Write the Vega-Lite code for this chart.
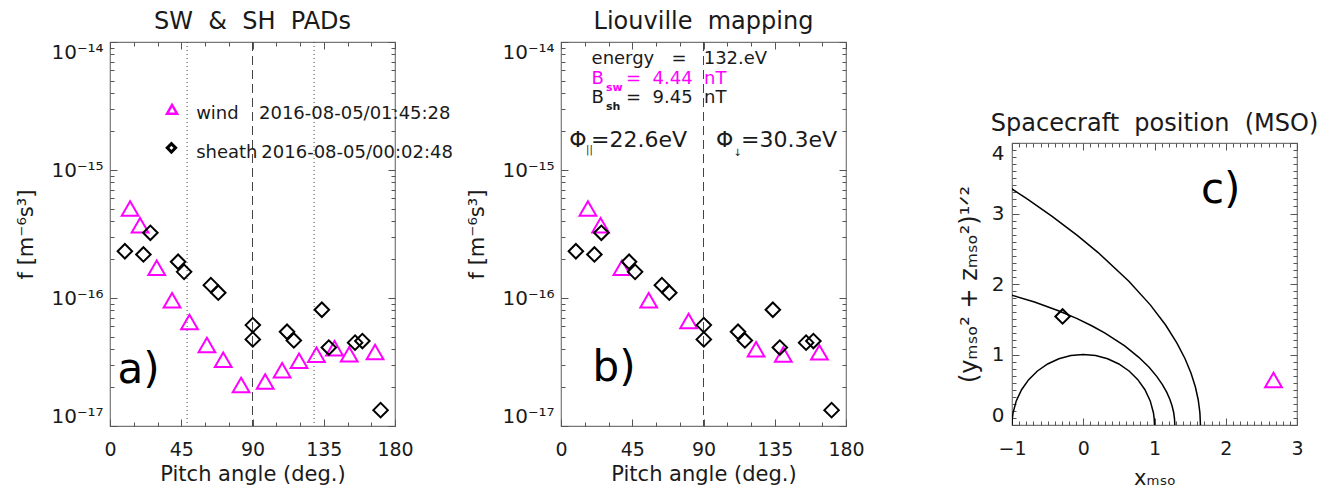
{
  "$schema": "https://vega.github.io/schema/vega-lite/v6.json",
  "background": "white",
  "padding": {"left": 15, "top": 9, "right": 5, "bottom": 5},
  "config": {
    "font": "DejaVu Sans",
    "view": {"stroke": "#777777", "strokeWidth": 1.2},
    "axis": {"domain": false, "grid": false, "tickColor": "#555555", "tickWidth": 1, "labelFont": "DejaVu Sans", "labelFontSize": 20, "labelColor": "#1a1a1a", "titleFont": "DejaVu Sans", "titleFontSize": 21, "titleFontWeight": "normal", "titleColor": "#1a1a1a", "labelOverlap": false},
    "axisX": {"labelFontSize": 19},
    "title": {"font": "DejaVu Sans", "fontSize": 24, "fontWeight": "normal", "color": "#1a1a1a", "offset": 0, "frame": "group", "anchor": "middle"}
  },
  "datasets": {
    "wind": [
      {"a": 12.7, "f": 5.0e-16}, {"a": 19.0, "f": 3.7e-16}, {"a": 29.5, "f": 1.72e-16}, {"a": 39.2, "f": 9.6e-17},
      {"a": 50.2, "f": 6.5e-17}, {"a": 61.2, "f": 4.29e-17}, {"a": 71.5, "f": 3.3e-17}, {"a": 82.8, "f": 2.09e-17},
      {"a": 98.0, "f": 2.23e-17}, {"a": 108.7, "f": 2.73e-17}, {"a": 119.4, "f": 3.24e-17}, {"a": 130.4, "f": 3.6e-17},
      {"a": 141.8, "f": 4.05e-17}, {"a": 151.1, "f": 3.63e-17}, {"a": 167.4, "f": 3.78e-17}
    ],
    "sheath": [
      {"a": 9.4, "f": 2.32e-16}, {"a": 21.1, "f": 2.19e-16}, {"a": 25.5, "f": 3.23e-16}, {"a": 43.0, "f": 1.92e-16},
      {"a": 46.8, "f": 1.6e-16}, {"a": 63.7, "f": 1.26e-16}, {"a": 68.4, "f": 1.1e-16}, {"a": 90.2, "f": 6.14e-17},
      {"a": 90.2, "f": 4.75e-17}, {"a": 111.8, "f": 5.45e-17}, {"a": 116.1, "f": 4.66e-17}, {"a": 133.8, "f": 8.09e-17},
      {"a": 138.2, "f": 4.1e-17}, {"a": 154.8, "f": 4.48e-17}, {"a": 159.4, "f": 4.61e-17}, {"a": 170.9, "f": 1.33e-17}
    ],
    "mapped": [
      {"a": 17.0, "f": 5.0e-16}, {"a": 25.0, "f": 3.7e-16}, {"a": 38.5, "f": 1.72e-16}, {"a": 55.4, "f": 9.6e-17},
      {"a": 80.6, "f": 6.6e-17}, {"a": 123.2, "f": 3.97e-17}, {"a": 140.4, "f": 3.62e-17}, {"a": 163.2, "f": 3.76e-17}
    ],
    "curves": [
      {"s": "mars", "o": 0, "x": -1, "y": 0}, {"s": "mars", "o": 1, "x": -0.996, "y": 0.087}, {"s": "mars", "o": 2, "x": -0.985, "y": 0.174},
      {"s": "mars", "o": 3, "x": -0.94, "y": 0.342}, {"s": "mars", "o": 4, "x": -0.866, "y": 0.5}, {"s": "mars", "o": 5, "x": -0.766, "y": 0.643},
      {"s": "mars", "o": 6, "x": -0.643, "y": 0.766}, {"s": "mars", "o": 7, "x": -0.5, "y": 0.866}, {"s": "mars", "o": 8, "x": -0.342, "y": 0.94},
      {"s": "mars", "o": 9, "x": -0.174, "y": 0.985}, {"s": "mars", "o": 10, "x": 0, "y": 1}, {"s": "mars", "o": 11, "x": 0.174, "y": 0.985},
      {"s": "mars", "o": 12, "x": 0.342, "y": 0.94}, {"s": "mars", "o": 13, "x": 0.5, "y": 0.866}, {"s": "mars", "o": 14, "x": 0.643, "y": 0.766},
      {"s": "mars", "o": 15, "x": 0.766, "y": 0.643}, {"s": "mars", "o": 16, "x": 0.866, "y": 0.5}, {"s": "mars", "o": 17, "x": 0.94, "y": 0.342},
      {"s": "mars", "o": 18, "x": 0.985, "y": 0.174}, {"s": "mars", "o": 19, "x": 0.996, "y": 0.087}, {"s": "mars", "o": 20, "x": 1, "y": 0},
      {"s": "mpb", "o": 0, "x": 1.285, "y": 0}, {"s": "mpb", "o": 1, "x": 1.281, "y": 0.088}, {"s": "mpb", "o": 2, "x": 1.269, "y": 0.178},
      {"s": "mpb", "o": 3, "x": 1.247, "y": 0.27}, {"s": "mpb", "o": 4, "x": 1.215, "y": 0.365}, {"s": "mpb", "o": 5, "x": 1.171, "y": 0.466},
      {"s": "mpb", "o": 6, "x": 1.111, "y": 0.573}, {"s": "mpb", "o": 7, "x": 1.031, "y": 0.69}, {"s": "mpb", "o": 8, "x": 0.924, "y": 0.818},
      {"s": "mpb", "o": 9, "x": 0.78, "y": 0.96}, {"s": "mpb", "o": 10, "x": 0.582, "y": 1.121}, {"s": "mpb", "o": 11, "x": 0.306, "y": 1.303},
      {"s": "mpb", "o": 12, "x": 0.125, "y": 1.404}, {"s": "mpb", "o": 13, "x": -0.093, "y": 1.512}, {"s": "mpb", "o": 14, "x": -0.358, "y": 1.625},
      {"s": "mpb", "o": 15, "x": -0.684, "y": 1.745}, {"s": "mpb", "o": 16, "x": -1.087, "y": 1.867},
      {"s": "bs", "o": 0, "x": 1.645, "y": 0}, {"s": "bs", "o": 1, "x": 1.637, "y": 0.176}, {"s": "bs", "o": 2, "x": 1.614, "y": 0.355},
      {"s": "bs", "o": 3, "x": 1.574, "y": 0.539}, {"s": "bs", "o": 4, "x": 1.513, "y": 0.733}, {"s": "bs", "o": 5, "x": 1.429, "y": 0.94},
      {"s": "bs", "o": 6, "x": 1.313, "y": 1.166}, {"s": "bs", "o": 7, "x": 1.156, "y": 1.418}, {"s": "bs", "o": 8, "x": 0.941, "y": 1.704},
      {"s": "bs", "o": 9, "x": 0.64, "y": 2.04}, {"s": "bs", "o": 10, "x": 0.209, "y": 2.446}, {"s": "bs", "o": 11, "x": -0.08, "y": 2.687},
      {"s": "bs", "o": 12, "x": -0.437, "y": 2.96}, {"s": "bs", "o": 13, "x": -0.788, "y": 3.207}, {"s": "bs", "o": 14, "x": -1.1, "y": 3.414}
    ]
  },
  "hconcat": [
    {
      "width": 285, "height": 384,
      "title": "SW\u00a0\u00a0&\u00a0\u00a0SH\u00a0\u00a0PADs",
      "resolve": {"axis": {"x": "independent", "y": "independent"}},
      "layer": [
        {
          "data": {"values": [{"a": 48.7}, {"a": 128.9}]},
          "mark": {"type": "rule", "strokeDash": [1, 3], "color": "#444444", "strokeWidth": 1},
          "encoding": {"x": {"field": "a", "type": "quantitative", "scale": {"domain": [0, 180], "nice": false, "zero": false}, "axis": null}}
        },
        {
          "data": {"values": [{"a": 90}]},
          "mark": {"type": "rule", "strokeDash": [9, 5], "color": "#444444", "strokeWidth": 1},
          "encoding": {"x": {"field": "a", "type": "quantitative", "scale": {"domain": [0, 180], "nice": false, "zero": false}, "axis": null}}
        },
        {
          "data": {"name": "wind"},
          "mark": {"type": "point", "shape": "triangle-up", "filled": false, "size": 280, "strokeWidth": 2, "color": "#ff00ff", "opacity": 1},
          "encoding": {
            "x": {"field": "a", "type": "quantitative", "scale": {"domain": [0, 180], "nice": false, "zero": false},
              "axis": {"orient": "bottom", "values": [0, 15, 30, 45, 60, 75, 90, 105, 120, 135, 150, 165, 180],
                "tickSize": {"condition": {"test": "datum.value % 45 === 0", "value": -7}, "value": -4},
                "labelExpr": "datum.value % 45 === 0 ? datum.label : ''", "labelPadding": 21, "labelFlush": false,
                "title": "Pitch angle (deg.)", "titlePadding": 1}},
            "y": {"field": "f", "type": "quantitative", "scale": {"type": "log", "domain": [1e-17, 1e-14], "nice": false},
              "axis": {"orient": "left",
                "values": [1e-17, 2e-17, 3e-17, 4e-17, 5e-17, 6e-17, 7e-17, 8e-17, 9e-17, 1e-16, 2e-16, 3e-16, 4e-16, 5e-16, 6e-16, 7e-16, 8e-16, 9e-16, 1e-15, 2e-15, 3e-15, 4e-15, 5e-15, 6e-15, 7e-15, 8e-15, 9e-15, 1e-14],
                "tickSize": {"condition": {"test": "abs(log(datum.value)/LN10 - round(log(datum.value)/LN10)) < 0.001", "value": -7}, "value": -4},
                "labelExpr": "abs(log(datum.value)/LN10 - round(log(datum.value)/LN10)) < 0.001 ? '10' + (round(log(datum.value)/LN10) == -14 ? '⁻¹⁴' : round(log(datum.value)/LN10) == -15 ? '⁻¹⁵' : round(log(datum.value)/LN10) == -16 ? '⁻¹⁶' : '⁻¹⁷') : ''",
                "labelPadding": 14, "labelFlush": true, "title": "f [m⁻⁶s³]", "titlePadding": 14}}
          }
        },
        {
          "data": {"name": "sheath"},
          "mark": {"type": "point", "shape": "diamond", "filled": false, "size": 210, "strokeWidth": 2, "color": "#000000", "opacity": 1},
          "encoding": {
            "x": {"field": "a", "type": "quantitative", "scale": {"domain": [0, 180], "nice": false, "zero": false},
              "axis": {"orient": "top", "values": [0, 15, 30, 45, 60, 75, 90, 105, 120, 135, 150, 165, 180],
                "tickSize": {"condition": {"test": "datum.value % 45 === 0", "value": -7}, "value": -4}, "labels": false, "title": null}},
            "y": {"field": "f", "type": "quantitative", "scale": {"type": "log", "domain": [1e-17, 1e-14], "nice": false},
              "axis": {"orient": "right",
                "values": [1e-17, 2e-17, 3e-17, 4e-17, 5e-17, 6e-17, 7e-17, 8e-17, 9e-17, 1e-16, 2e-16, 3e-16, 4e-16, 5e-16, 6e-16, 7e-16, 8e-16, 9e-16, 1e-15, 2e-15, 3e-15, 4e-15, 5e-15, 6e-15, 7e-15, 8e-15, 9e-15, 1e-14],
                "tickSize": {"condition": {"test": "abs(log(datum.value)/LN10 - round(log(datum.value)/LN10)) < 0.001", "value": -7}, "value": -4},
                "labels": false, "title": null}}
          }
        },
        {
          "data": {"values": [{"a": 39.2, "f": 2.98e-15}]},
          "mark": {"type": "point", "shape": "triangle-up", "filled": false, "size": 100, "strokeWidth": 2.5, "color": "#ff00ff", "opacity": 1},
          "encoding": {
            "x": {"field": "a", "type": "quantitative", "scale": {"domain": [0, 180], "nice": false, "zero": false}, "axis": null},
            "y": {"field": "f", "type": "quantitative", "scale": {"type": "log", "domain": [1e-17, 1e-14], "nice": false}, "axis": null}
          }
        },
        {
          "data": {"values": [{"a": 38.8, "f": 1.49e-15}]},
          "mark": {"type": "point", "shape": "diamond", "filled": false, "size": 70, "strokeWidth": 3, "color": "#000000", "opacity": 1},
          "encoding": {
            "x": {"field": "a", "type": "quantitative", "scale": {"domain": [0, 180], "nice": false, "zero": false}, "axis": null},
            "y": {"field": "f", "type": "quantitative", "scale": {"type": "log", "domain": [1e-17, 1e-14], "nice": false}, "axis": null}
          }
        },
        {
          "data": {"values": [
            {"a": 54.4, "f": 2.49e-15, "t": "wind"}, {"a": 94.1, "f": 2.49e-15, "t": "2016-08-05/01:45:28"},
            {"a": 54.4, "f": 1.25e-15, "t": "sheath"}, {"a": 95.6, "f": 1.25e-15, "t": "2016-08-05/00:02:48"}
          ]},
          "mark": {"type": "text", "align": "left", "baseline": "alphabetic", "fontSize": 18, "color": "#1a1a1a"},
          "encoding": {
            "x": {"field": "a", "type": "quantitative", "scale": {"domain": [0, 180], "nice": false, "zero": false}, "axis": null},
            "y": {"field": "f", "type": "quantitative", "scale": {"type": "log", "domain": [1e-17, 1e-14], "nice": false}, "axis": null},
            "text": {"field": "t"}
          }
        },
        {
          "data": {"values": [{"a": 4.8, "f": 2.18e-17, "t": "a)"}]},
          "mark": {"type": "text", "align": "left", "baseline": "alphabetic", "fontSize": 42, "color": "#000000"},
          "encoding": {
            "x": {"field": "a", "type": "quantitative", "scale": {"domain": [0, 180], "nice": false, "zero": false}, "axis": null},
            "y": {"field": "f", "type": "quantitative", "scale": {"type": "log", "domain": [1e-17, 1e-14], "nice": false}, "axis": null},
            "text": {"field": "t"}
          }
        }
      ]
    },
    {
      "width": 285, "height": 384,
      "title": "Liouville\u00a0\u00a0mapping",
      "resolve": {"axis": {"x": "independent", "y": "independent"}},
      "layer": [
        {
          "data": {"values": [{"a": 90}]},
          "mark": {"type": "rule", "strokeDash": [9, 5], "color": "#444444", "strokeWidth": 1},
          "encoding": {"x": {"field": "a", "type": "quantitative", "scale": {"domain": [0, 180], "nice": false, "zero": false}, "axis": null}}
        },
        {
          "data": {"name": "mapped"},
          "mark": {"type": "point", "shape": "triangle-up", "filled": false, "size": 280, "strokeWidth": 2, "color": "#ff00ff", "opacity": 1},
          "encoding": {
            "x": {"field": "a", "type": "quantitative", "scale": {"domain": [0, 180], "nice": false, "zero": false},
              "axis": {"orient": "bottom", "values": [0, 15, 30, 45, 60, 75, 90, 105, 120, 135, 150, 165, 180],
                "tickSize": {"condition": {"test": "datum.value % 45 === 0", "value": -7}, "value": -4},
                "labelExpr": "datum.value % 45 === 0 ? datum.label : ''", "labelPadding": 21, "labelFlush": false,
                "title": "Pitch angle (deg.)", "titlePadding": 1}},
            "y": {"field": "f", "type": "quantitative", "scale": {"type": "log", "domain": [1e-17, 1e-14], "nice": false},
              "axis": {"orient": "left",
                "values": [1e-17, 2e-17, 3e-17, 4e-17, 5e-17, 6e-17, 7e-17, 8e-17, 9e-17, 1e-16, 2e-16, 3e-16, 4e-16, 5e-16, 6e-16, 7e-16, 8e-16, 9e-16, 1e-15, 2e-15, 3e-15, 4e-15, 5e-15, 6e-15, 7e-15, 8e-15, 9e-15, 1e-14],
                "tickSize": {"condition": {"test": "abs(log(datum.value)/LN10 - round(log(datum.value)/LN10)) < 0.001", "value": -7}, "value": -4},
                "labelExpr": "abs(log(datum.value)/LN10 - round(log(datum.value)/LN10)) < 0.001 ? '10' + (round(log(datum.value)/LN10) == -14 ? '⁻¹⁴' : round(log(datum.value)/LN10) == -15 ? '⁻¹⁵' : round(log(datum.value)/LN10) == -16 ? '⁻¹⁶' : '⁻¹⁷') : ''",
                "labelPadding": 14, "labelFlush": true, "title": "f [m⁻⁶s³]", "titlePadding": 14}}
          }
        },
        {
          "data": {"name": "sheath"},
          "mark": {"type": "point", "shape": "diamond", "filled": false, "size": 210, "strokeWidth": 2, "color": "#000000", "opacity": 1},
          "encoding": {
            "x": {"field": "a", "type": "quantitative", "scale": {"domain": [0, 180], "nice": false, "zero": false},
              "axis": {"orient": "top", "values": [0, 15, 30, 45, 60, 75, 90, 105, 120, 135, 150, 165, 180],
                "tickSize": {"condition": {"test": "datum.value % 45 === 0", "value": -7}, "value": -4}, "labels": false, "title": null}},
            "y": {"field": "f", "type": "quantitative", "scale": {"type": "log", "domain": [1e-17, 1e-14], "nice": false},
              "axis": {"orient": "right",
                "values": [1e-17, 2e-17, 3e-17, 4e-17, 5e-17, 6e-17, 7e-17, 8e-17, 9e-17, 1e-16, 2e-16, 3e-16, 4e-16, 5e-16, 6e-16, 7e-16, 8e-16, 9e-16, 1e-15, 2e-15, 3e-15, 4e-15, 5e-15, 6e-15, 7e-15, 8e-15, 9e-15, 1e-14],
                "tickSize": {"condition": {"test": "abs(log(datum.value)/LN10 - round(log(datum.value)/LN10)) < 0.001", "value": -7}, "value": -4},
                "labels": false, "title": null}}
          }
        },
        {
          "data": {"values": [
            {"a": 19.3, "f": 6.7e-15, "t": "energy\u00a0\u00a0\u00a0=\u00a0\u00a0\u00a0132.eV"},
            {"a": 19.3, "f": 3.36e-15, "t": "B"}, {"a": 41.05, "f": 3.36e-15, "t": "=\u00a0\u00a09.45\u00a0\u00a0nT"}
          ]},
          "mark": {"type": "text", "align": "left", "baseline": "alphabetic", "fontSize": 18, "color": "#1a1a1a"},
          "encoding": {
            "x": {"field": "a", "type": "quantitative", "scale": {"domain": [0, 180], "nice": false, "zero": false}, "axis": null},
            "y": {"field": "f", "type": "quantitative", "scale": {"type": "log", "domain": [1e-17, 1e-14], "nice": false}, "axis": null},
            "text": {"field": "t"}
          }
        },
        {
          "data": {"values": [{"a": 19.3, "f": 4.68e-15, "t": "B"}, {"a": 41.05, "f": 4.68e-15, "t": "=\u00a0\u00a04.44\u00a0\u00a0nT"}]},
          "mark": {"type": "text", "align": "left", "baseline": "alphabetic", "fontSize": 18, "color": "#ff00ff"},
          "encoding": {
            "x": {"field": "a", "type": "quantitative", "scale": {"domain": [0, 180], "nice": false, "zero": false}, "axis": null},
            "y": {"field": "f", "type": "quantitative", "scale": {"type": "log", "domain": [1e-17, 1e-14], "nice": false}, "axis": null},
            "text": {"field": "t"}
          }
        },
        {
          "data": {"values": [{"a": 28.4, "f": 2.94e-15, "t": "sh"}]},
          "mark": {"type": "text", "align": "left", "baseline": "alphabetic", "fontSize": 11, "fontWeight": "bold", "color": "#1a1a1a"},
          "encoding": {
            "x": {"field": "a", "type": "quantitative", "scale": {"domain": [0, 180], "nice": false, "zero": false}, "axis": null},
            "y": {"field": "f", "type": "quantitative", "scale": {"type": "log", "domain": [1e-17, 1e-14], "nice": false}, "axis": null},
            "text": {"field": "t"}
          }
        },
        {
          "data": {"values": [{"a": 28.4, "f": 4.14e-15, "t": "sw"}]},
          "mark": {"type": "text", "align": "left", "baseline": "alphabetic", "fontSize": 11, "fontWeight": "bold", "color": "#ff00ff"},
          "encoding": {
            "x": {"field": "a", "type": "quantitative", "scale": {"domain": [0, 180], "nice": false, "zero": false}, "axis": null},
            "y": {"field": "f", "type": "quantitative", "scale": {"type": "log", "domain": [1e-17, 1e-14], "nice": false}, "axis": null},
            "text": {"field": "t"}
          }
        },
        {
          "data": {"values": [
            {"a": 5.24, "f": 1.513e-15, "t": "Φ"}, {"a": 18.95, "f": 1.513e-15, "t": "=22.6eV"},
            {"a": 97.9, "f": 1.513e-15, "t": "Φ"}, {"a": 113.7, "f": 1.513e-15, "t": "=30.3eV"}
          ]},
          "mark": {"type": "text", "align": "left", "baseline": "alphabetic", "fontSize": 22, "color": "#1a1a1a"},
          "encoding": {
            "x": {"field": "a", "type": "quantitative", "scale": {"domain": [0, 180], "nice": false, "zero": false}, "axis": null},
            "y": {"field": "f", "type": "quantitative", "scale": {"type": "log", "domain": [1e-17, 1e-14], "nice": false}, "axis": null},
            "text": {"field": "t"}
          }
        },
        {
          "data": {"values": [{"a": 15.8, "f": 1.364e-15, "t": "||"}, {"a": 108.8, "f": 1.285e-15, "t": "↓"}]},
          "mark": {"type": "text", "align": "left", "baseline": "alphabetic", "fontSize": 10, "color": "#1a1a1a"},
          "encoding": {
            "x": {"field": "a", "type": "quantitative", "scale": {"domain": [0, 180], "nice": false, "zero": false}, "axis": null},
            "y": {"field": "f", "type": "quantitative", "scale": {"type": "log", "domain": [1e-17, 1e-14], "nice": false}, "axis": null},
            "text": {"field": "t"}
          }
        },
        {
          "data": {"values": [{"a": 19.96, "f": 2.25e-17, "t": "b)"}]},
          "mark": {"type": "text", "align": "left", "baseline": "alphabetic", "fontSize": 42, "color": "#000000"},
          "encoding": {
            "x": {"field": "a", "type": "quantitative", "scale": {"domain": [0, 180], "nice": false, "zero": false}, "axis": null},
            "y": {"field": "f", "type": "quantitative", "scale": {"type": "log", "domain": [1e-17, 1e-14], "nice": false}, "axis": null},
            "text": {"field": "t"}
          }
        }
      ]
    },
    {
      "vconcat": [
        {"width": 285, "height": 101, "data": {"values": []}, "mark": "point", "view": {"stroke": null}},
        {
          "width": 285, "height": 282,
          "title": "Spacecraft\u00a0\u00a0position\u00a0\u00a0(MSO)",
          "resolve": {"axis": {"x": "independent", "y": "independent"}},
          "layer": [
            {
              "data": {"name": "curves"},
              "mark": {"type": "line", "color": "#000000", "strokeWidth": 1.5, "clip": true},
              "encoding": {
                "x": {"field": "x", "type": "quantitative", "scale": {"domain": [-1, 3], "nice": false, "zero": false},
                  "axis": {"orient": "bottom",
                    "values": [-1, -0.9, -0.8, -0.7, -0.6, -0.5, -0.4, -0.3, -0.2, -0.1, 0, 0.1, 0.2, 0.3, 0.4, 0.5, 0.6, 0.7, 0.8, 0.9, 1, 1.1, 1.2, 1.3, 1.4, 1.5, 1.6, 1.7, 1.8, 1.9, 2, 2.1, 2.2, 2.3, 2.4, 2.5, 2.6, 2.7, 2.8, 2.9, 3],
                    "tickSize": {"condition": {"test": "abs(datum.value - round(datum.value)) < 0.001", "value": -7}, "value": -4},
                    "labelExpr": "abs(datum.value - round(datum.value)) < 0.001 ? format(round(datum.value), 'd') : ''",
                    "labelPadding": 21, "labelFlush": false, "title": "xₘₛₒ", "titlePadding": 6}},
                "y": {"field": "y", "type": "quantitative", "scale": {"domain": [0, 4], "nice": false, "zero": false},
                  "axis": {"orient": "left",
                    "values": [0, 0.1, 0.2, 0.3, 0.4, 0.5, 0.6, 0.7, 0.8, 0.9, 1, 1.1, 1.2, 1.3, 1.4, 1.5, 1.6, 1.7, 1.8, 1.9, 2, 2.1, 2.2, 2.3, 2.4, 2.5, 2.6, 2.7, 2.8, 2.9, 3, 3.1, 3.2, 3.3, 3.4, 3.5, 3.6, 3.7, 3.8, 3.9, 4],
                    "tickSize": {"condition": {"test": "abs(datum.value - round(datum.value)) < 0.001", "value": -7}, "value": -4},
                    "labelExpr": "abs(datum.value - round(datum.value)) < 0.001 ? format(round(datum.value), 'd') : ''",
                    "labelPadding": 15, "labelFlush": true, "title": "(yₘₛₒ² + zₘₛₒ²)¹ᐟ²", "titleFontSize": 24, "titlePadding": 10}},
                "detail": {"field": "s"},
                "order": {"field": "o", "type": "quantitative"}
              }
            },
            {
              "data": {"values": [{"x": -0.29, "y": 1.54}]},
              "mark": {"type": "point", "shape": "diamond", "filled": false, "size": 210, "strokeWidth": 2, "color": "#000000", "opacity": 1},
              "encoding": {
                "x": {"field": "x", "type": "quantitative", "scale": {"domain": [-1, 3], "nice": false, "zero": false},
                  "axis": {"orient": "top",
                    "values": [-1, -0.9, -0.8, -0.7, -0.6, -0.5, -0.4, -0.3, -0.2, -0.1, 0, 0.1, 0.2, 0.3, 0.4, 0.5, 0.6, 0.7, 0.8, 0.9, 1, 1.1, 1.2, 1.3, 1.4, 1.5, 1.6, 1.7, 1.8, 1.9, 2, 2.1, 2.2, 2.3, 2.4, 2.5, 2.6, 2.7, 2.8, 2.9, 3],
                    "tickSize": {"condition": {"test": "abs(datum.value - round(datum.value)) < 0.001", "value": -7}, "value": -4},
                    "labels": false, "title": null}},
                "y": {"field": "y", "type": "quantitative", "scale": {"domain": [0, 4], "nice": false, "zero": false},
                  "axis": {"orient": "right",
                    "values": [0, 0.1, 0.2, 0.3, 0.4, 0.5, 0.6, 0.7, 0.8, 0.9, 1, 1.1, 1.2, 1.3, 1.4, 1.5, 1.6, 1.7, 1.8, 1.9, 2, 2.1, 2.2, 2.3, 2.4, 2.5, 2.6, 2.7, 2.8, 2.9, 3, 3.1, 3.2, 3.3, 3.4, 3.5, 3.6, 3.7, 3.8, 3.9, 4],
                    "tickSize": {"condition": {"test": "abs(datum.value - round(datum.value)) < 0.001", "value": -7}, "value": -4},
                    "labels": false, "title": null}}
              }
            },
            {
              "data": {"values": [{"x": 2.67, "y": 0.64}]},
              "mark": {"type": "point", "shape": "triangle-up", "filled": false, "size": 280, "strokeWidth": 2, "color": "#ff00ff", "opacity": 1},
              "encoding": {
                "x": {"field": "x", "type": "quantitative", "scale": {"domain": [-1, 3], "nice": false, "zero": false}, "axis": null},
                "y": {"field": "y", "type": "quantitative", "scale": {"domain": [0, 4], "nice": false, "zero": false}, "axis": null}
              }
            },
            {
              "data": {"values": [{"x": 1.653, "y": 3.153, "t": "c)"}]},
              "mark": {"type": "text", "align": "left", "baseline": "alphabetic", "fontSize": 42, "color": "#000000"},
              "encoding": {
                "x": {"field": "x", "type": "quantitative", "scale": {"domain": [-1, 3], "nice": false, "zero": false}, "axis": null},
                "y": {"field": "y", "type": "quantitative", "scale": {"domain": [0, 4], "nice": false, "zero": false}, "axis": null},
                "text": {"field": "t"}
              }
            }
          ]
        }
      ],
      "spacing": 0,
      "bounds": "flush"
    }
  ],
  "spacing": 166,
  "bounds": "flush"
}
